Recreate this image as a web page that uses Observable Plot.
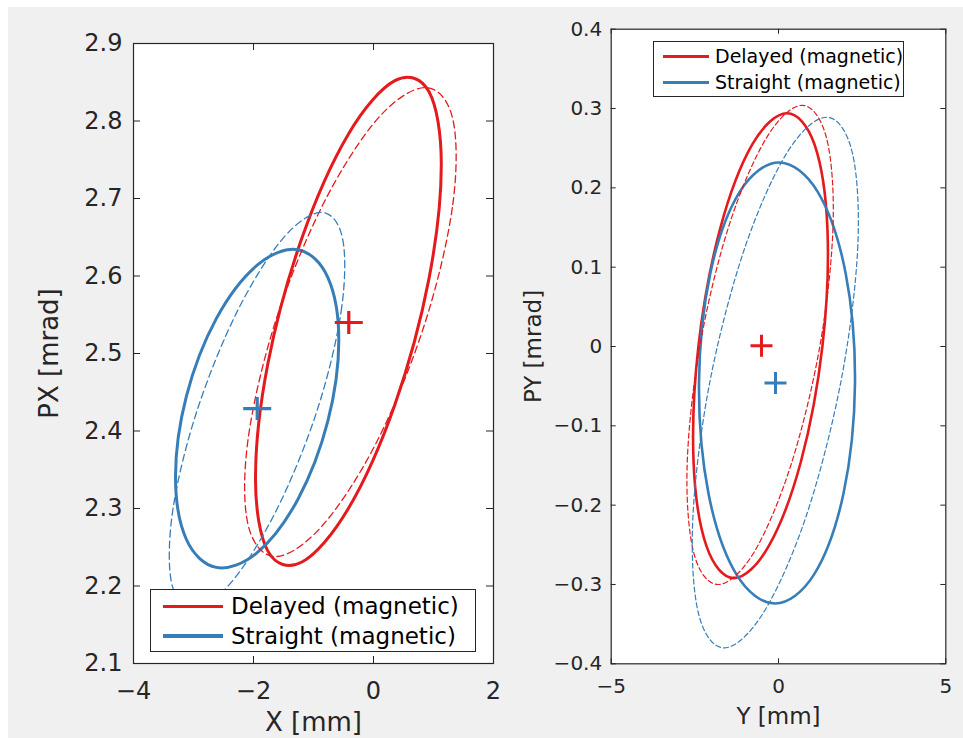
<!DOCTYPE html>
<html><head><meta charset="utf-8">
<script src="https://cdn.jsdelivr.net/npm/d3@7"></script>
<script src="https://cdn.jsdelivr.net/npm/@observablehq/plot@0.6"></script>
<style>
body{margin:0;background:#fff;font-family:"DejaVu Sans",sans-serif;}
#wrap{position:relative;width:963px;height:738px;overflow:hidden;}
#bg{position:absolute;left:8px;top:7px;right:0;bottom:0;background:#f0f0f0;}
.panel{position:absolute;top:0;}
.legend{position:absolute;background:#fff;border:1px solid #262626;box-sizing:border-box;}
.lg-line{position:absolute;}
.lg-text{position:absolute;white-space:nowrap;line-height:1;color:#000;}
</style></head><body>
<div id="wrap"><div id="bg"></div></div>
<script>
const RED = "#e41a1c", BLUE = "#377eb8";

// ---------- Left panel: X [mm] vs PX [mrad] ----------
const xTicksLeft = [-4, -2, 0, 2];
const yTicksLeft = [2.1, 2.2, 2.3, 2.4, 2.5, 2.6, 2.7, 2.8, 2.9];
const pxDelayedSolid = [[1.130,2.744],[0.923,2.596],[0.356,2.434],[-0.419,2.300],[-1.193,2.231],[-1.760,2.245],[-1.967,2.339],[-1.760,2.487],[-1.193,2.649],[-0.419,2.783],[0.356,2.852],[0.923,2.838]];
const pxDelayedDashed = [[0.865,2.541],[1.321,2.692],[1.320,2.803],[0.862,2.843],[0.070,2.803],[-0.844,2.692],[-1.635,2.541],[-2.091,2.389],[-2.090,2.279],[-1.632,2.238],[-0.840,2.279],[0.074,2.389]];
const pxStraightSolid = [[-0.578,2.517],[-0.760,2.413],[-1.259,2.312],[-1.939,2.243],[-2.620,2.224],[-3.118,2.260],[-3.300,2.341],[-3.118,2.445],[-2.620,2.545],[-1.939,2.614],[-1.259,2.634],[-0.760,2.598]];
const pxStraightDashed = [[-0.942,2.426],[-0.540,2.554],[-0.515,2.648],[-0.872,2.682],[-1.515,2.648],[-2.273,2.554],[-2.942,2.426],[-3.343,2.299],[-3.368,2.205],[-3.012,2.171],[-2.368,2.205],[-1.610,2.299]];
const pxCentroids = [{x:-0.412, y:2.540, color:RED}, {x:-1.938, y:2.429, color:BLUE}];

// ---------- Right panel: Y [mm] vs PY [mrad] ----------
const xTicksRight = [-5, 0, 5];
const yTicksRight = [-0.4, -0.3, -0.2, -0.1, 0, 0.1, 0.2, 0.3, 0.4];
const pyDelayedSolid = [[1.315,0.001],[1.463,0.148],[1.074,0.255],[0.254,0.294],[-0.779,0.255],[-1.747,0.148],[-2.391,0.001],[-2.539,-0.145],[-2.150,-0.252],[-1.330,-0.292],[-0.297,-0.252],[0.671,-0.145]];
const pyDelayedDashed = [[1.243,0.002],[1.631,0.153],[1.434,0.263],[0.705,0.304],[-0.360,0.263],[-1.475,0.153],[-2.343,0.002],[-2.730,-0.149],[-2.533,-0.260],[-1.805,-0.300],[-0.740,-0.260],[0.375,-0.149]];
const pyStraightSolid = [[2.286,-0.046],[2.004,0.093],[1.172,0.195],[0.015,0.232],[-1.159,0.195],[-2.034,0.093],[-2.376,-0.046],[-2.094,-0.185],[-1.262,-0.287],[-0.105,-0.324],[1.069,-0.287],[1.944,-0.185]];
const pyStraightDashed = [[1.862,-0.045],[2.365,0.122],[2.208,0.244],[1.435,0.289],[0.251,0.244],[-1.026,0.122],[-2.053,-0.045],[-2.556,-0.213],[-2.400,-0.335],[-1.626,-0.380],[-0.442,-0.335],[0.834,-0.213]];
const pyCentroids = [{x:-0.508, y:0.001, color:RED}, {x:-0.09, y:-0.046, color:BLUE}];

const legendLabels = ["Delayed (magnetic)", "Straight (magnetic)"];
const legendColors = [RED, BLUE];

const INK = "#262626";
const fmtInt = d3.format("d");
const fmt1 = d => d === 0 ? "0" : d3.format(".1f")(d);

function plusSymbol(hx, hy) {
  return {draw(ctx) { ctx.moveTo(-hx, 0); ctx.lineTo(hx, 0); ctx.moveTo(0, -hy); ctx.lineTo(0, hy); }};
}

function panel(o) {
  const plotW = o.w - o.ml - o.mr, plotH = o.h - o.mt - o.mb;
  const curves = o.series.map(s => Plot.line(s.pts, {
    x: d => d[0], y: d => d[1], curve: "cardinal-closed", tension: 0,
    stroke: s.color, strokeWidth: s.dashed ? o.dashW : o.solidW,
    strokeDasharray: s.dashed ? o.dash : null, strokeLinejoin: "round"
  }));
  const svg = Plot.plot({
    width: o.w, height: o.h,
    marginLeft: o.ml, marginRight: o.mr, marginTop: o.mt, marginBottom: o.mb,
    x: {domain: o.xDomain}, y: {domain: o.yDomain},
    style: {background: "transparent", fontFamily: "DejaVu Sans", fontSize: o.fs + "px", color: INK},
    marks: [
      Plot.frame({fill: "white", stroke: null}),
      ...curves,
      Plot.dot(o.centroids, {x: "x", y: "y", stroke: "color", fill: "none", strokeWidth: o.mw, symbol: plusSymbol(o.mhx, o.mhy), r: 10}),
      Plot.tickX(o.xTicks, {x: d => d, insetTop: plotH - o.tl, stroke: INK}),
      Plot.tickX(o.xTicks, {x: d => d, insetBottom: plotH - o.tl, stroke: INK}),
      Plot.tickY(o.yTicks, {y: d => d, insetRight: plotW - o.tl, stroke: INK}),
      Plot.tickY(o.yTicks, {y: d => d, insetLeft: plotW - o.tl, stroke: INK}),
      Plot.axisX(o.xTicks, {anchor: "bottom", tickSize: 0, tickPadding: o.xPad, label: null, tickFormat: o.xFmt}),
      Plot.axisY(o.yTicks, {anchor: "left", tickSize: 0, tickPadding: o.yPad, label: null, tickFormat: o.yFmt}),
      Plot.frame({stroke: INK, strokeWidth: 1.2}),
      Plot.text([o.xLabel], {frameAnchor: "bottom", dy: o.xLabelDy, fontSize: o.lfs, textAnchor: "middle", lineAnchor: "middle", fill: INK}),
      Plot.text([o.yLabel], {frameAnchor: "left", dx: o.yLabelDx, rotate: -90, fontSize: o.lfs, textAnchor: "middle", lineAnchor: "middle", fill: INK})
    ]
  });
  svg.classList.add("panel");
  svg.style.left = o.left + "px";
  document.getElementById("wrap").appendChild(svg);
}

panel({
  left: 0, w: 500, h: 738, ml: 133, mr: 7, mt: 43, mb: 75,
  xDomain: [-4, 2], yDomain: [2.1, 2.9], xTicks: xTicksLeft, yTicks: yTicksLeft,
  xFmt: fmtInt, yFmt: d3.format(".1f"), fs: 24, lfs: 26, tl: 7, xPad: 18, yPad: 11,
  solidW: 3, dashW: 1.3, dash: "7,4", mw: 3.2, mhx: 14, mhy: 11.5,
  series: [
    {pts: pxDelayedSolid, color: RED, dashed: false},
    {pts: pxStraightSolid, color: BLUE, dashed: false},
    {pts: pxDelayedDashed, color: RED, dashed: true},
    {pts: pxStraightDashed, color: BLUE, dashed: true}
  ],
  centroids: pxCentroids, xLabel: "X [mm]", yLabel: "PX [mrad]", xLabelDy: 59, yLabelDx: -84
});

panel({
  left: 500, w: 463, h: 738, ml: 110.7, mr: 17.7, mt: 28.7, mb: 74.7,
  xDomain: [-5, 5], yDomain: [-0.4, 0.4], xTicks: xTicksRight, yTicks: yTicksRight,
  xFmt: fmtInt, yFmt: fmt1, fs: 20, lfs: 23, tl: 5, xPad: 15, yPad: 9,
  solidW: 2.6, dashW: 1.2, dash: "5,3", mw: 3, mhx: 11, mhy: 11,
  series: [
    {pts: pyDelayedSolid, color: RED, dashed: false},
    {pts: pyStraightSolid, color: BLUE, dashed: false},
    {pts: pyDelayedDashed, color: RED, dashed: true},
    {pts: pyStraightDashed, color: BLUE, dashed: true}
  ],
  centroids: pyCentroids, xLabel: "Y [mm]", yLabel: "PY [mrad]", xLabelDy: 53, yLabelDx: -78
});

function legend(box, rows) {
  const wrap = document.getElementById("wrap");
  const b = document.createElement("div");
  b.className = "legend";
  Object.assign(b.style, {left: box.x + "px", top: box.y + "px", width: box.w + "px", height: box.h + "px"});
  wrap.appendChild(b);
  legendLabels.forEach((lab, i) => {
    const ly = rows.y[i];
    const ln = document.createElement("div");
    ln.className = "lg-line";
    Object.assign(ln.style, {left: rows.x0 + "px", top: (ly - rows.lw / 2) + "px", width: (rows.x1 - rows.x0) + "px", height: rows.lw + "px", background: legendColors[i]});
    wrap.appendChild(ln);
    const t = document.createElement("div");
    t.className = "lg-text";
    t.textContent = lab;
    Object.assign(t.style, {left: rows.tx + "px", top: (ly - 0.5 * rows.fs) + "px", fontSize: rows.fs + "px"});
    wrap.appendChild(t);
  });
}
legend({x: 150, y: 589, w: 326, h: 63}, {x0: 163, x1: 223, tx: 231, y: [606.7, 636], lw: 3.5, fs: 23});
legend({x: 653, y: 41, w: 251, h: 56}, {x0: 663, x1: 709, tx: 715, y: [56.7, 82.7], lw: 3, fs: 19});
</script>
</body></html>
